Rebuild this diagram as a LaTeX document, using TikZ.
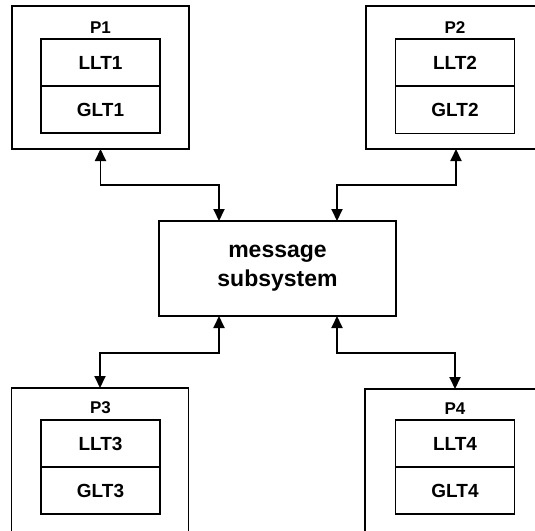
\documentclass[tikz,border=0pt]{standalone}
\usepackage{fontspec}
\setmainfont{Liberation Sans}
\usetikzlibrary{arrows.meta}
\begin{document}
\begin{tikzpicture}[x=1pt,y=-1pt,
  proc/.style={draw, line width=1.3pt, inner sep=0, outer sep=0,
    minimum width=177pt, minimum height=160pt},
  cell/.style={draw, line width=1.1pt, inner sep=0, outer sep=0,
    minimum width=119pt, minimum height=47pt,
    font=\bfseries\fontsize{19}{22}\selectfont},
  plabel/.style={inner sep=0, font=\bfseries\fontsize{17}{20}\selectfont},
  msg/.style={draw, line width=1.3pt, inner sep=0, outer sep=0,
    minimum width=237pt, minimum height=95pt, align=center,
    font=\bfseries\fontsize{23}{29}\selectfont},
  link/.style={line width=1.9pt, {Triangle[length=12pt,width=11pt]}-{Triangle[length=12pt,width=11pt]}}
]
\useasboundingbox (0,0) rectangle (535,530);
\clip (0,0) rectangle (535,530);

% processors (outer frames)
\node[proc, minimum height=143pt] (p1) at (100.5,77.5) {};
\node[proc, minimum height=143pt, minimum width=180pt] (p2) at (456,77.5) {};
\node[proc] (p3) at (100,468) {};
\node[proc, minimum width=180pt] (p4) at (455,469) {};

% processor labels
\node[plabel] (l1) at (100.5,28) {P1};
\node[plabel] (l2) at (455,28) {P2};
\node[plabel] (l3) at (100.5,408) {P3};
\node[plabel] (l4) at (455,409) {P4};

% lock tables
\node[cell] (llt1) at (100.5,62.5) {LLT1};
\node[cell] (glt1) at (100.5,109.5) {GLT1};
\node[cell] (llt2) at (455,62.5) {LLT2};
\node[cell] (glt2) at (455,110) {GLT2};
\node[cell] (llt3) at (100.5,443.5) {LLT3};
\node[cell] (glt3) at (100.5,490.5) {GLT3};
\node[cell] (llt4) at (455,443.5) {LLT4};
\node[cell] (glt4) at (455,490.5) {GLT4};

% central message subsystem
\node[msg] (ms) at (277.5,268.5) {message\\subsystem};

% bidirectional links
\coordinate (m1) at ([xshift=-58.5pt]ms.north);
\coordinate (m2) at ([xshift=59.5pt]ms.north);
\coordinate (m3) at ([xshift=-58.5pt]ms.south);
\coordinate (m4) at ([xshift=59.5pt]ms.south);
\draw[link] (p1.south) |- (119,185) -| (m1);
\draw[link] (p2.south) |- (437,185) -| (m2);
\draw[link] (m3) |- (119,353) -| (p3.north);
\draw[link] (m4) |- (437,353) -| (p4.north);
\end{tikzpicture}
\end{document}
